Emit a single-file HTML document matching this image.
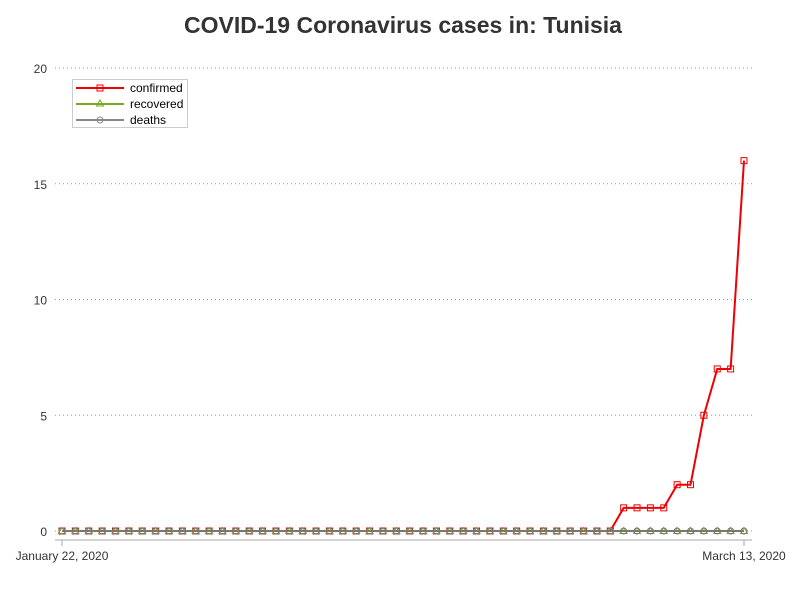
<!DOCTYPE html>
<html><head><meta charset="utf-8"><style>
body{margin:0;background:#fff;font-family:"Liberation Sans",sans-serif}
</style></head><body>
<svg width="800" height="600" xmlns="http://www.w3.org/2000/svg">
<text x="403" y="33" text-anchor="middle" font-size="23" font-weight="bold" fill="#333">COVID-19 Coronavirus cases in: Tunisia</text>
<g id="grid"></g>
<g id="yticks"></g>
<line x1="55" y1="540" x2="752" y2="540" stroke="#aaa"/>
<g id="xticks"></g>
<g id="series"></g>
<g>
<rect x="72.5" y="79.5" width="115" height="48" fill="#fff" stroke="#ccc"/>
<g><line x1="76" y1="88" x2="124" y2="88" stroke="#e00" stroke-width="2"/><rect x="97" y="85" width="6" height="6" fill="none" stroke="#e00"/><text x="130" y="92" font-size="12" fill="#000">confirmed</text></g>
<g><line x1="76" y1="104" x2="124" y2="104" stroke="#7a2" stroke-width="2"/><path d="M100 100 L103.5 106 L96.5 106 Z" fill="none" stroke="#7a2"/><text x="130" y="108" font-size="12" fill="#000">recovered</text></g>
<g><line x1="76" y1="120" x2="124" y2="120" stroke="#888" stroke-width="2"/><circle cx="100" cy="120" r="3" fill="none" stroke="#888"/><text x="130" y="124" font-size="12" fill="#000">deaths</text></g>
</g>
</svg>
<script>
const xLabels=["January 22, 2020","March 13, 2020"];
const yTicks=[0,5,10,15,20];
const confirmed=[0,0,0,0,0,0,0,0,0,0,0,0,0,0,0,0,0,0,0,0,0,0,0,0,0,0,0,0,0,0,0,0,0,0,0,0,0,0,0,0,0,0,1,1,1,1,2,2,5,7,7,16];
const recovered=new Array(52).fill(0);
const deaths=new Array(52).fill(0);
const NS="http://www.w3.org/2000/svg";
const n=confirmed.length;
const x=i=>62+i*(744-62)/(n-1);
const y=v=>531-v*(531-68)/20;
function mk(t,a,p){const e=document.createElementNS(NS,t);for(const k in a)e.setAttribute(k,a[k]);p.appendChild(e);return e;}
const grid=document.getElementById('grid'),yt=document.getElementById('yticks'),xt=document.getElementById('xticks'),sr=document.getElementById('series');
yTicks.forEach(v=>{
 const l=mk('line',{x1:55,x2:752,y1:y(v),y2:y(v),stroke:'#999','stroke-dasharray':'1,3'},grid);
 
 
 const t=mk('text',{x:47,y:y(v)+5,'text-anchor':'end','font-size':12,fill:'#333'},yt);
 
 
 t.textContent=v;
});
[0,n-1].forEach((i,k)=>{
 const l=mk('line',{x1:x(i),x2:x(i),y1:540,y2:546,stroke:'#aaa'},xt);
 
 
 const t=mk('text',{x:x(i),y:560,'text-anchor':'middle','font-size':12,fill:'#333'},xt);
 
 
 t.textContent=xLabels[k];
});
function drawSeries(d,color,shape,name){
 const g=mk('g',{},sr);
 
 
 const p=mk('polyline',{points:d.map((v,i)=>x(i)+','+y(v)).join(' '),fill:'none',stroke:color,'stroke-width':2},g);
 
 
 d.forEach((v,i)=>{
  let m;
  if(shape==='sq')m=mk('rect',{x:x(i)-3,y:y(v)-3,width:6,height:6,fill:'none',stroke:color},g);
  else if(shape==='tri')m=mk('path',{d:`M${x(i)} ${y(v)-3.5} L${x(i)+3.5} ${y(v)+2.5} L${x(i)-3.5} ${y(v)+2.5} Z`,fill:'none',stroke:color},g);
  else m=mk('circle',{cx:x(i),cy:y(v),r:3,fill:'none',stroke:color},g);
  
  
 });
}
drawSeries(confirmed,'#e00','sq','confirmed');
drawSeries(recovered,'#7a2','tri','recovered');
drawSeries(deaths,'#777','circ','deaths');
</script>
</body></html>
